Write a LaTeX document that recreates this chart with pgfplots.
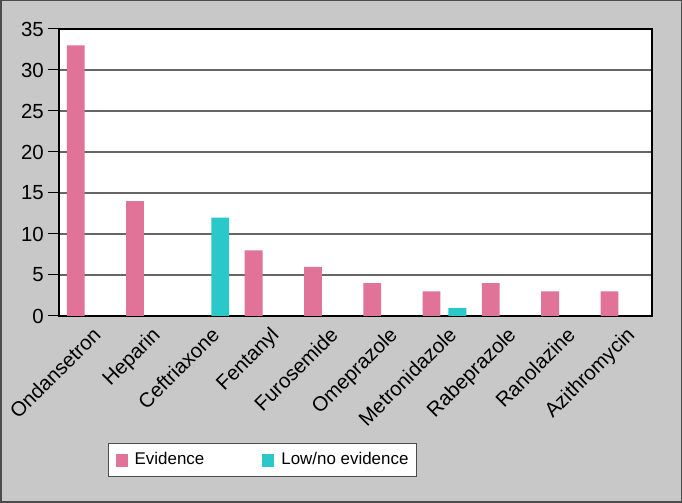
\documentclass[border=0pt]{standalone}
\usepackage{fontspec}
\setmainfont{Liberation Sans}
\usepackage{pgfplots}
\pgfplotsset{compat=1.18}
\definecolor{evid}{RGB}{225,115,153}
\definecolor{lowev}{RGB}{42,200,200}
\definecolor{bggray}{RGB}{200,200,200}
\newcommand{\tickfont}{\fontsize{20.5}{24}\selectfont}
\newcommand{\legfont}{\fontsize{17}{20}\selectfont}
\begin{document}
\begin{tikzpicture}[x=1bp,y=1bp]
\path[use as bounding box] (0,0) rectangle (682,503);
\fill[bggray] (0,0) rectangle (682,503);
\draw[line width=1.5bp, black!70] (0.75,0.75) rectangle (681.25,502.25);
\begin{axis}[
    at={(59bp,187bp)}, anchor=south west,
    scale only axis, width=593bp, height=287bp,
    ybar, bar width=0.3,
    xmin=-0.5, xmax=9.5, ymin=0, ymax=35,
    ytick={0,5,...,35},
    xtick={0,...,9},
    xticklabels={Ondansetron,Heparin,Ceftriaxone,Fentanyl,Furosemide,Omeprazole,Metronidazole,Rabeprazole,Ranolazine,Azithromycin},
    x tick label style={rotate=45, anchor=north east, inner sep=1bp, xshift=4bp},
    y tick label style={inner xsep=4bp},
    xtick style={draw=none},
    ytick pos=left, xtick pos=bottom,
    tick align=outside, major tick length=11bp,
    ytick style={line width=1bp, black},
    ymajorgrids, grid style={line width=1.1bp, black!60},
    axis background/.style={fill=white},
    axis line style={line width=1.6bp},
    tick label style={font=\tickfont},
    /pgf/number format/assume math mode=true,
    legend columns=2,
    legend image code/.code={\fill[#1] (0bp,-6.5bp) rectangle (12bp,6.5bp);},
    legend style={at={(axis description cs:0.0826,-0.4425)}, anchor=north west,
        draw=black!70, line width=1.4bp, fill=white, font=\legfont,
        inner xsep=7bp, inner ysep=7.5bp,
        nodes={inner sep=1bp, text height=12.5bp, text depth=3.5bp},
        /tikz/every odd column/.append style={column sep=6bp},
        /tikz/every even column/.append style={column sep=57bp}},
]
\addplot[fill=evid, draw=none, bar shift=-0.218] coordinates {
    (0,33) (1,14) (3,8) (4,6) (5,4) (6,3) (7,4) (8,3) (9,3)
};
\addplot[fill=lowev, draw=none, bar shift=0.218] coordinates {
    (2,12) (6,1)
};
\legend{Evidence, Low/no evidence}
\end{axis}
\end{tikzpicture}
\end{document}
